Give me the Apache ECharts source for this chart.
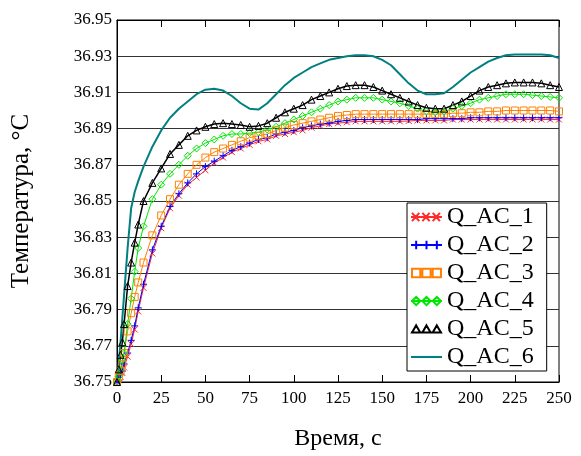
<!DOCTYPE html>
<html>
<head>
<meta charset="utf-8">
<script src="https://cdn.jsdelivr.net/npm/echarts@6/dist/echarts.min.js"></script>
<style>
  html, body { margin: 0; padding: 0; background: #fff; }
  #chart { width: 581px; height: 456px; }
</style>
</head>
<body>
<div id="chart"></div>
<script>
// time, s
const time = [0, 1, 2, 3, 4, 6, 8, 10, 12, 15,
  20, 25, 30, 35, 40, 45, 50, 55, 60, 65,
  70, 75, 80, 85, 90, 95, 100, 105, 110, 115,
  120, 125, 130, 135, 140, 145, 150, 155, 160, 165,
  170, 175, 180, 185, 190, 195, 200, 205, 210, 215,
  220, 225, 230, 235, 240, 245, 250]

const qac1 = [36.75, 36.751, 36.753, 36.755, 36.758, 36.764, 36.771, 36.779, 36.789, 36.802,
  36.821, 36.835, 36.846, 36.853, 36.859, 36.863, 36.867, 36.871, 36.874, 36.877,
  36.879, 36.881, 36.883, 36.884, 36.886, 36.887, 36.888, 36.889, 36.8905, 36.8915,
  36.8925, 36.893, 36.8935, 36.894, 36.894, 36.894, 36.894, 36.894, 36.894, 36.8942,
  36.8945, 36.8945, 36.8945, 36.8945, 36.895, 36.895, 36.895, 36.895, 36.895, 36.895,
  36.895, 36.895, 36.895, 36.895, 36.895, 36.895, 36.895]

const qac2 = [36.75, 36.751, 36.754, 36.756, 36.76, 36.766, 36.773, 36.781, 36.791, 36.804,
  36.823, 36.836, 36.847, 36.854, 36.86, 36.865, 36.869, 36.872, 36.875, 36.878,
  36.88, 36.882, 36.884, 36.885, 36.887, 36.888, 36.889, 36.8905, 36.8915, 36.8925,
  36.893, 36.894, 36.8945, 36.895, 36.895, 36.895, 36.895, 36.895, 36.895, 36.895,
  36.895, 36.8955, 36.8955, 36.8955, 36.8955, 36.8955, 36.896, 36.896, 36.896, 36.896,
  36.896, 36.896, 36.896, 36.896, 36.896, 36.896, 36.896]

const qac3 = [36.75, 36.753, 36.756, 36.76, 36.766, 36.778, 36.788, 36.797, 36.805, 36.816,
  36.831, 36.842, 36.851, 36.859, 36.865, 36.87, 36.874, 36.877, 36.879, 36.881,
  36.883, 36.885, 36.886, 36.887, 36.889, 36.8905, 36.892, 36.893, 36.894, 36.895,
  36.896, 36.897, 36.8975, 36.898, 36.898, 36.898, 36.898, 36.898, 36.898, 36.898,
  36.898, 36.898, 36.898, 36.898, 36.8985, 36.8985, 36.899, 36.899, 36.8995, 36.8995,
  36.9, 36.9, 36.9, 36.9, 36.9, 36.9, 36.8995]

const qac4 = [36.75, 36.753, 36.757, 36.762, 36.766, 36.782, 36.796, 36.811, 36.824, 36.836,
  36.851, 36.859, 36.865, 36.87, 36.875, 36.879, 36.882, 36.884, 36.886, 36.887,
  36.887, 36.8875, 36.888, 36.8895, 36.891, 36.893, 36.895, 36.897, 36.899, 36.901,
  36.903, 36.905, 36.906, 36.907, 36.907, 36.907, 36.906, 36.905, 36.904, 36.9025,
  36.901, 36.8995, 36.899, 36.8995, 36.901, 36.9025, 36.904, 36.906, 36.907, 36.908,
  36.909, 36.909, 36.909, 36.9085, 36.908, 36.9075, 36.907]

const qac5 = [36.75, 36.757, 36.765, 36.772, 36.782, 36.803, 36.816, 36.827, 36.837, 36.85,
  36.86, 36.868, 36.876, 36.881, 36.886, 36.889, 36.891, 36.8925, 36.893, 36.8925,
  36.892, 36.891, 36.8915, 36.893, 36.896, 36.899, 36.901, 36.903, 36.906, 36.908,
  36.91, 36.912, 36.9135, 36.914, 36.914, 36.913, 36.911, 36.909, 36.907, 36.905,
  36.903, 36.9015, 36.901, 36.901, 36.903, 36.905, 36.908, 36.911, 36.913, 36.914,
  36.915, 36.9155, 36.9155, 36.9155, 36.915, 36.914, 36.913]

const qac6 = [36.75, 36.76, 36.772, 36.785, 36.798, 36.824, 36.846, 36.855, 36.861, 36.869,
  36.88, 36.889, 36.896, 36.901, 36.905, 36.909, 36.9115, 36.912, 36.911, 36.908,
  36.904, 36.901, 36.9005, 36.904, 36.909, 36.914, 36.918, 36.921, 36.924, 36.926,
  36.928, 36.929, 36.93, 36.9305, 36.9305, 36.93, 36.928, 36.925, 36.92, 36.915,
  36.911, 36.909, 36.909, 36.9095, 36.913, 36.917, 36.921, 36.924, 36.927, 36.929,
  36.9305, 36.931, 36.931, 36.931, 36.931, 36.9305, 36.929]

const seriesNames = ["Q_AC_1", "Q_AC_2", "Q_AC_3", "Q_AC_4", "Q_AC_5", "Q_AC_6"]
const xTicks = [0, 25, 50, 75, 100, 125, 150, 175, 200, 225, 250]

const FONT = "Liberation Serif"
const SYMBOLS = {
  cross: "path://M0,0L10,10M0,10L10,0",
  plus: "path://M5,0L5,10M0,5L10,5",
  square: "path://M0,0L10,0L10,10L0,10Z",
  diamond: "path://M5,0L10,5L5,10L0,5Z",
  triangle: "path://M5,0L10,10L0,10Z"
}

// legend icons: line with three markers, like the original
const LEGEND_ICONS = {
  Q_AC_1: "path://M0,5L30,5M1,1L8,9M1,9L8,1M11,1L18,9M11,9L18,1M21,1L28,9M21,9L28,1",
  Q_AC_2: "path://M0,5L30,5M5,1L5,9M15,1L15,9M25,1L25,9",
  Q_AC_3: "path://M0,5L1,5M1,1L9,1L9,9L1,9ZM9,5L11,5M11,1L19,1L19,9L11,9ZM19,5L21,5M21,1L29,1L29,9L21,9ZM29,5L30,5",
  Q_AC_4: "path://M0,5L30,5M5,1L9,5L5,9L1,5ZM15,1L19,5L15,9L11,5ZM25,1L29,5L25,9L21,5Z",
  Q_AC_5: "path://M0,9L30,9M5,2L9,9L1,9ZM15,2L19,9L11,9ZM25,2L29,9L21,9Z",
  Q_AC_6: "path://M0,4L30,4L30,6L0,6Z"
}

function pairs(values) {
  return time.map((t, i) => [t, values[i]])
}

function markedSeries(name, values, color, symbol, size, lineWidth) {
  return {
    name,
    type: "line",
    data: pairs(values),
    symbol,
    symbolSize: size,
    showAllSymbol: true,
    lineStyle: { color, width: lineWidth },
    itemStyle: { color: "transparent", borderColor: color, borderWidth: 1 },
    emphasis: { disabled: true },
    animation: false
  }
}

const chart = echarts.init(document.getElementById("chart"), null, { renderer: "canvas" })

chart.setOption({
  animation: false,
  grid: { left: 117, right: 22, top: 20, bottom: 72, show: true, borderColor: "#000", borderWidth: 1 },
  legend: {
    orient: "vertical",
    left: 407,
    top: 203,
    data: seriesNames.map((name) => ({ name, icon: LEGEND_ICONS[name] })),
    itemWidth: 31,
    itemHeight: 10,
    itemGap: 2,
    padding: [1, 13, 1, 3],
    backgroundColor: "#fff",
    borderColor: "#000",
    borderWidth: 1,
    textStyle: { fontFamily: FONT, fontSize: 24, color: "#000", lineHeight: 26 }
  },
  xAxis: [
    {
      type: "value",
      min: 0,
      max: 250,
      interval: 25,
      name: "Время, с",
      nameLocation: "middle",
      nameGap: 45,
      nameTextStyle: { fontFamily: FONT, fontSize: 24, color: "#000" },
      axisLine: { lineStyle: { color: "#000" } },
      axisTick: { inside: true, length: 7, lineStyle: { color: "#000" } },
      axisLabel: { fontFamily: FONT, fontSize: 17, color: "#000", margin: 8, formatter: (v) => xTicks.includes(v) ? String(v) : "" },
      splitLine: { show: false }
    },
    {
      type: "value",
      position: "top",
      min: 0,
      max: 250,
      interval: 25,
      axisLine: { lineStyle: { color: "#000" } },
      axisTick: { inside: true, length: 7, lineStyle: { color: "#000" } },
      axisLabel: { show: false },
      splitLine: { show: false }
    }
  ],
  yAxis: {
    type: "value",
    min: 36.75,
    max: 36.95,
    interval: 0.02,
    name: "Температура, °C",
    nameLocation: "middle",
    nameGap: 83,
    nameRotate: 90,
    nameTextStyle: { fontFamily: FONT, fontSize: 25, color: "#000" },
    axisLine: { show: true, lineStyle: { color: "#000" } },
    axisTick: { show: false },
    axisLabel: { fontFamily: FONT, fontSize: 17, color: "#000", margin: 5, formatter: (v) => v.toFixed(2) },
    splitLine: { show: true, lineStyle: { color: "#333", width: 1.2 } }
  },
  series: [
    markedSeries("Q_AC_1", qac1, "#ff2a2a", SYMBOLS.cross, 6, 1),
    markedSeries("Q_AC_2", qac2, "#0000ff", SYMBOLS.plus, 7, 1),
    markedSeries("Q_AC_3", qac3, "#ff8000", SYMBOLS.square, 7, 1),
    markedSeries("Q_AC_4", qac4, "#00e600", SYMBOLS.diamond, 7, 1),
    markedSeries("Q_AC_5", qac5, "#000000", SYMBOLS.triangle, 7, 1.5),
    {
      name: "Q_AC_6",
      type: "line",
      data: pairs(qac6),
      symbol: "none",
      lineStyle: { color: "#008080", width: 2 },
      itemStyle: { color: "#008080" },
      emphasis: { disabled: true },
      animation: false
    }
  ]
})
</script>
</body>
</html>
